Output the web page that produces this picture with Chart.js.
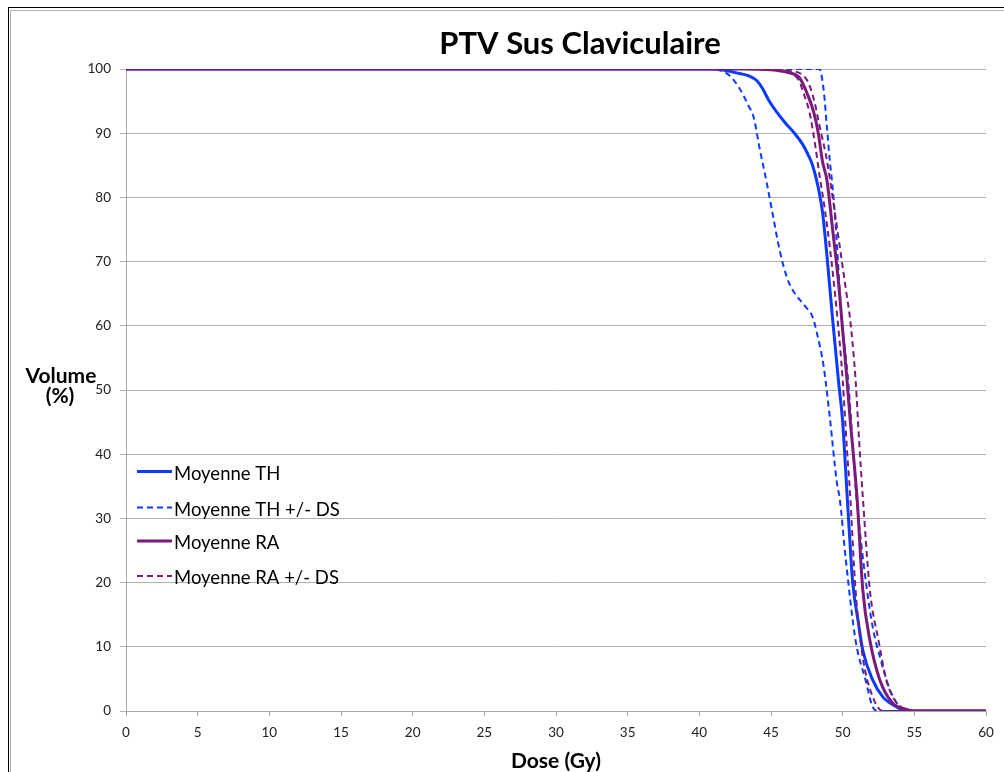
<!DOCTYPE html>
<html lang="fr">
<head>
<meta charset="UTF-8">
<title>PTV Sus Claviculaire</title>
<script src="https://cdn.jsdelivr.net/npm/chart.js"></script>
<style>
  html, body { margin: 0; padding: 0; background: #fff; }
  #wrap { width: 1004px; height: 772px; }
</style>
</head>
<body>
<div id="wrap"><canvas id="dvh" width="1004" height="772"></canvas></div>
<script>
// DVH data: dose (Gy) / volume (%)
const thMeanDose = [0, 41, 42, 42.8, 43.5, 44, 44.4, 44.8, 45.3, 46, 46.6, 47.2, 47.6, 47.9, 48.3, 48.6, 48.9, 49.3, 49.7, 50, 50.3, 50.5, 50.7, 51.1, 51.4, 52.1, 52.8, 53.8, 54.5, 60];
const thMeanVol  = [100, 100, 99.7, 99.3, 98.9, 98.2, 97, 95.3, 93.6, 91.6, 90.1, 88.3, 86.6, 85, 81.5, 77.6, 71, 61, 51.6, 45, 34, 26.6, 20, 13.7, 9.5, 4.8, 2.2, 0.6, 0, 0];

const thLowDose = [0, 40.5, 41.4, 42.1, 42.8, 43.4, 43.8, 44.2, 44.7, 45.1, 45.6, 46.1, 46.5, 47.4, 47.9, 48.2, 48.6, 48.8, 49.1, 49.6, 49.8, 50.2, 50.9, 51.6, 52.1, 52.5, 60];
const thLowVol  = [100, 100, 99.8, 99, 97, 94.4, 92.4, 87.7, 82.3, 77.6, 71.8, 67.6, 65.6, 63, 61.4, 58.9, 54.7, 51.6, 45.8, 35.5, 33, 24, 11, 4.8, 0.6, 0, 0];

const thHighDose = [0, 48.4, 48.5, 48.7, 48.9, 49.1, 49.3, 49.5, 49.9, 50.4, 50.9, 51.3, 51.7, 52.1, 52.6, 53.3, 54, 54.8, 60];
const thHighVol  = [100, 100, 99.3, 96.2, 91, 85.8, 81.5, 76, 62, 51, 35, 26, 18.8, 13, 8.4, 3.3, 0.6, 0, 0];

const raMeanDose = [0, 43, 45, 46.3, 47, 47.5, 48, 48.3, 48.6, 48.9, 49.3, 49.7, 50, 50.3, 50.5, 51, 51.4, 51.9, 52.6, 53.5, 54.5, 55, 60];
const raMeanVol  = [100, 100, 99.9, 99.4, 98.6, 96.3, 93.1, 90, 85.5, 82.7, 75, 67, 59.3, 51.6, 46, 33.3, 19, 11, 4.8, 1.2, 0.2, 0, 0];

const raLowDose = [0, 43, 46, 47, 47.2, 47.7, 48.1, 48.4, 48.7, 49.1, 49.6, 50, 50.3, 50.5, 50.9, 51.4, 52.1, 52.8, 60];
const raLowVol  = [100, 100, 99.5, 98, 96.7, 93.1, 87.9, 83.2, 79, 72.3, 62, 51.6, 40.7, 34.4, 18.8, 8.4, 2.2, 0, 0];

const raHighDose = [0, 44, 46.3, 47.5, 48, 48.4, 48.9, 49.3, 49.8, 50.3, 50.5, 50.9, 51.15, 51.4, 51.9, 52.5, 53.1, 53.8, 54.5, 55, 60];
const raHighVol  = [100, 100, 99.7, 98.3, 95.2, 91, 85.8, 80, 72.3, 64.5, 61.4, 51.6, 42, 33.5, 18.8, 11, 4.4, 1.2, 0.2, 0, 0];

const legendLabels = ['Moyenne TH', 'Moyenne TH +/- DS', 'Moyenne RA', 'Moyenne RA +/- DS'];

const BLUE = '#0b3bff';
const PURPLE = '#7a1b7c';

function pts(dose, vol) {
    return dose.map((d, i) => ({ x: d, y: vol[i] }));
}

function curve(dose, vol, color, dashed, order) {
    return {
        data: pts(dose, vol),
        borderColor: color,
        borderWidth: dashed ? 2 : 3,
        borderDash: dashed ? [6, 4] : [],
        pointRadius: 0,
        cubicInterpolationMode: 'monotone',
        fill: false,
        order: order
    };
}

// frame, titles and the in-plot legend
const decor = {
    id: 'decor',
    afterDraw(chart) {
        const ctx = chart.ctx;
        ctx.save();
        ctx.lineWidth = 1;
        ctx.strokeStyle = '#000';
        ctx.strokeRect(8.5, 7.5, 1100, 900);
        ctx.strokeStyle = '#b0b0b0';
        ctx.strokeRect(10.5, 10.5, 1100, 900);

        ctx.fillStyle = '#000';
        ctx.textAlign = 'center';
        ctx.textBaseline = 'alphabetic';
        ctx.font = 'bold 31px Lato';
        ctx.fillText('PTV Sus Claviculaire', 580, 54);

        ctx.font = 'bold 21px Lato';
        ctx.fillText('Volume', 61, 383);
        ctx.fillText('(%)', 60, 403);

        ctx.font = 'bold 21px Lato';
        ctx.fillText('Dose (Gy)', 556, 768);

        const rows = [471.5, 507.5, 541, 576];
        const styles = [[BLUE, false], [BLUE, true], [PURPLE, false], [PURPLE, true]];
        ctx.textAlign = 'left';
        ctx.font = '18.5px Lato';
        rows.forEach((y, i) => {
            const [c, dashed] = styles[i];
            ctx.beginPath();
            ctx.strokeStyle = c;
            ctx.lineWidth = dashed ? 2 : 3;
            ctx.setLineDash(dashed ? [6, 4] : []);
            ctx.moveTo(137, y);
            ctx.lineTo(172, y);
            ctx.stroke();
            ctx.setLineDash([]);
            ctx.fillStyle = '#000';
            ctx.fillText(legendLabels[i], 174, y + 8);
        });
        ctx.restore();
    }
};

new Chart(document.getElementById('dvh'), {
    type: 'line',
    data: {
        datasets: [
            curve(raMeanDose, raMeanVol, PURPLE, false, 0),
            curve(raLowDose, raLowVol, PURPLE, true, 1),
            curve(raHighDose, raHighVol, PURPLE, true, 1),
            curve(thMeanDose, thMeanVol, BLUE, false, 2),
            curve(thLowDose, thLowVol, BLUE, true, 3),
            curve(thHighDose, thHighVol, BLUE, true, 3)
        ]
    },
    options: {
        responsive: false,
        animation: false,
        devicePixelRatio: 1,
        layout: { padding: { top: 69, right: 18, bottom: 0, left: 0 } },
        plugins: {
            legend: { display: false },
            tooltip: { enabled: false }
        },
        scales: {
            x: {
                type: 'linear',
                min: 0,
                max: 60,
                ticks: { stepSize: 5, color: '#222', font: { family: 'Lato', size: 13.5 }, padding: 9, maxRotation: 0 },
                grid: { drawOnChartArea: false, tickLength: 5, color: '#a8a8a8' },
                border: { color: '#a8a8a8' },
                afterFit(s) { s.height = 61; }
            },
            y: {
                min: 0,
                max: 100,
                ticks: { stepSize: 10, color: '#222', font: { family: 'Lato', size: 13.5 }, padding: 9 },
                grid: { tickLength: 6, color: '#b0b0b0' },
                border: { color: '#a8a8a8' },
                afterFit(s) { s.width = 126; }
            }
        }
    },
    plugins: [decor]
});
</script>
</body>
</html>
